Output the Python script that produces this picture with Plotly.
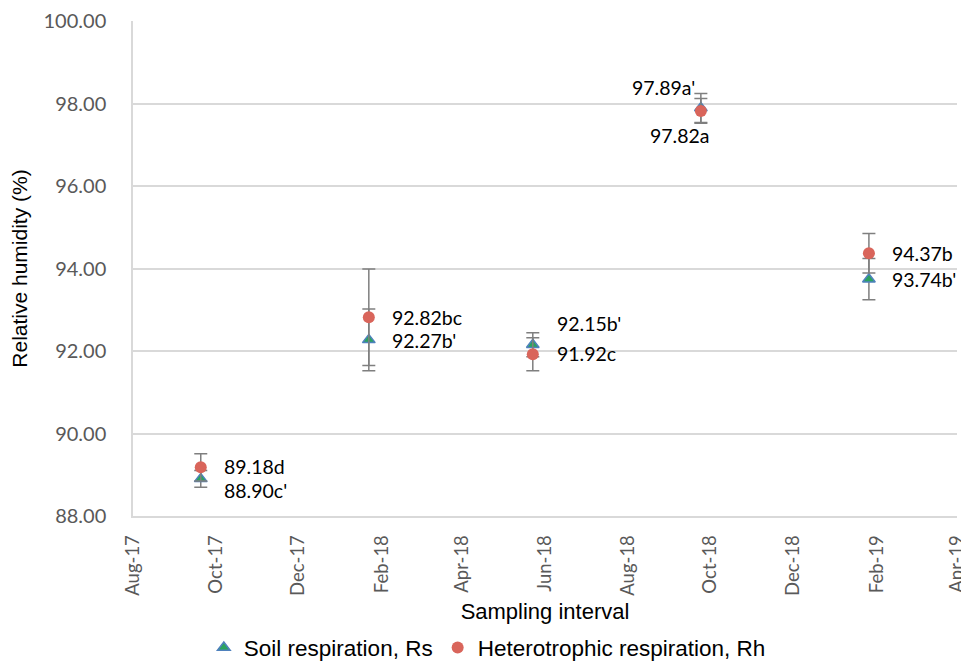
import plotly.graph_objects as go

dates = ["2017-09-20", "2018-01-22", "2018-05-23", "2018-09-24", "2019-01-26"]
rs_values = [88.90, 92.27, 92.15, 97.89, 93.74]
rs_errors = [0.20, 0.75, 0.29, 0.35, 0.50]
rs_labels = ["88.90c'", "92.27b'", "92.15b'", "97.89a'", "93.74b'"]
rh_values = [89.18, 92.82, 91.92, 97.82, 94.37]
rh_errors = [0.33, 1.17, 0.40, 0.30, 0.48]
rh_labels = ["89.18d", "92.82bc", "91.92c", "97.82a", "94.37b"]

# label placement offsets in pixels (styling only)
rs_offsets = [(21, -12, "left"), (21, -1, "left"), (22, 21, "left"), (-4, 21, "right"), (21, 0, "left")]
rh_offsets = [(21, 1, "left"), (21, 0, "left"), (22, 1, "left"), (-21, -25, "center"), (21, 0, "left")]

label_font = dict(family="Lato, Open Sans, sans-serif", size=19.5, color="#000000")
err_style = dict(type="data", visible=True, color="#7F7F7F", thickness=1.5, width=6.5)

fig = go.Figure()
fig.add_trace(go.Scatter(
    x=dates, y=rs_values, mode="markers", name="Soil respiration, Rs",
    marker=dict(symbol="triangle-up", size=11, color="#2BA35F",
                line=dict(color="#4F81BD", width=1.5)),
    error_y=dict(array=rs_errors, **err_style),
))
fig.add_trace(go.Scatter(
    x=dates, y=rh_values, mode="markers", name="Heterotrophic respiration, Rh",
    marker=dict(symbol="circle", size=12, color="#D9655B"),
    error_y=dict(array=rh_errors, **err_style),
))

for xs, ys, labs, offs in ((dates, rs_values, rs_labels, rs_offsets),
                           (dates, rh_values, rh_labels, rh_offsets)):
    for xv, yv, lab, (dx, dy, anc) in zip(xs, ys, labs, offs):
        fig.add_annotation(x=xv, y=yv, text=lab, showarrow=False,
                           xanchor=anc, yanchor="middle", xshift=dx, yshift=dy,
                           font=label_font)

tick_font_y = dict(family="Lato, Open Sans, sans-serif", size=20, color="#595959")
tick_font_x = dict(family="Lato, Open Sans, sans-serif", size=18.5, color="#595959")
title_font_y = dict(family="Liberation Sans, Arial, sans-serif", size=21, color="#000000")
title_font_x = dict(family="Liberation Sans, Arial, sans-serif", size=22, color="#000000")

fig.update_layout(
    width=969, height=653,
    margin=dict(l=125, r=20, t=13, b=145, autoexpand=False),
    paper_bgcolor="white", plot_bgcolor="white",
    showlegend=True,
    legend=dict(orientation="h", x=0.43, xanchor="center",
                yref="container", y=0.02, yanchor="middle",
                font=dict(family="Liberation Sans, Arial, sans-serif", size=22.5, color="#000000"),
                itemwidth=30, traceorder="normal"),
    xaxis=dict(
        type="date", range=["2017-08-01", "2019-04-01"],
        tick0="2017-08-01", dtick="M2", tickformat="%b-%y",
        tickangle=-90, tickfont=tick_font_x, automargin=False,
        showgrid=False, showline=True, linecolor="#D9D9D9", linewidth=1.5,
        ticks="", ticklabelstandoff=10,
        title=dict(text="Sampling interval", font=title_font_x, standoff=9),
        zeroline=False,
    ),
    yaxis=dict(
        range=[88, 100], tick0=88, dtick=2, tickformat=".2f", automargin=False,
        tickfont=tick_font_y, showgrid=True, gridcolor="#D9D9D9", gridwidth=1.5,
        showline=True, linecolor="#D9D9D9", linewidth=1.5,
        ticks="", ticklabelstandoff=21, zeroline=False,
        title=dict(text="Relative humidity (%)", font=title_font_y, standoff=19),
    ),
)

fig.write_html("out.html")
